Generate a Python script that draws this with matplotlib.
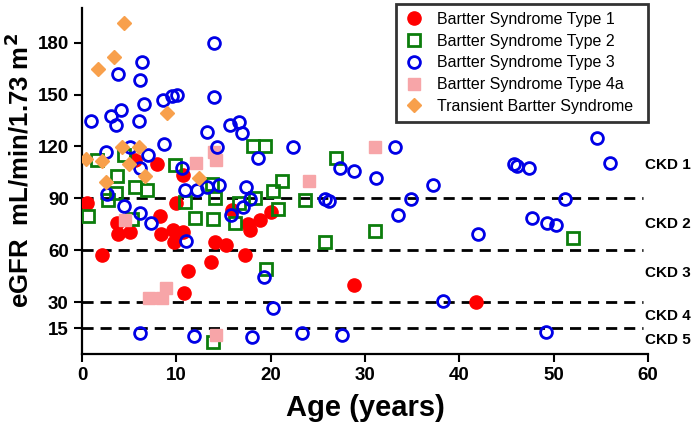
import matplotlib
matplotlib.use("Agg")
import matplotlib.pyplot as plt
from matplotlib.transforms import blended_transform_factory

plt.rcParams['font.family'] = ['Liberation Sans', 'DejaVu Sans']

# ---- data (age in years, eGFR) ----
t1_age = [0.5, 2.1, 3.7, 3.85, 5.1, 8.3, 8.4, 9.6, 9.7, 10.7, 10.0, 11.2, 10.85,
          7.9, 5.6, 10.7, 15.9, 17.6, 17.8, 18.9, 20.0, 14.1, 15.3, 17.3, 13.7,
          28.8, 41.8]
t1_gfr = [87, 57, 76, 69.6, 70.6, 79.8, 69.6, 71.6, 64.8, 70.6, 87, 48, 35,
          109.6, 112, 103.3, 83, 75.4, 71.6, 77.3, 82, 64.8, 62.9, 57.1, 53,
          40, 30]

t2_age = [0.6, 1.6, 2.8, 3.6, 3.7, 4.4, 5.3, 5.6, 6.9, 9.9, 10.9, 12.0, 13.8,
          13.9, 14.1, 13.9, 16.6, 16.2, 18.1, 19.4, 18.3, 19.5, 20.2, 20.8,
          21.2, 23.6, 25.8, 26.9, 31.1, 52.1]
t2_gfr = [80, 112, 89, 93, 103, 115, 78, 96.5, 94.6, 109, 88, 78.5, 98.5,
          78, 90, 7, 87, 76, 120, 120, 90, 49, 94, 84,
          100, 89, 65, 113.5, 71, 67]

t3_age = [0.95, 3.1, 3.6, 4.1, 3.85, 6.4, 6.15, 6.6, 6.0, 8.6, 9.5, 10.1, 14.0,
          14.0, 8.7, 13.3, 15.7, 16.6, 17.0, 14.35, 2.5, 5.1, 7.0, 6.1, 10.6,
          10.9, 12.2, 13.3, 14.5, 2.7, 4.45, 6.2, 7.3, 11.0, 15.8, 17.1, 6.15,
          11.9, 18.7, 17.4, 17.8, 19.3, 20.2, 18.0, 22.4, 27.4, 28.8, 33.2,
          31.2, 37.2, 25.8, 26.2, 34.9, 33.5, 23.3, 27.6, 54.6, 56.0, 45.8,
          46.1, 47.4, 51.2, 47.75, 49.3, 50.3, 42.0, 38.25, 49.2]
t3_gfr = [134.6, 137.5, 132.5, 140.8, 161.6, 168.5, 158.5, 144.3, 134.8, 146.6,
          148.9, 149.5, 179.6, 148.5, 121.6, 128.3, 132.5, 134, 127.7, 119.6,
          116.7, 119.6, 114.8, 107.5, 107.5, 94.6, 94.6, 96.5, 97.5, 92.7, 85.5,
          81.5, 76, 65.5, 80.2, 85, 11.9, 10.4, 113.4, 96.5, 89.8, 44.6, 26.4,
          10, 119.6, 107.5, 105.8, 119.6, 101.7, 97.9, 89.8, 88.5, 89.6, 80.6,
          11.9, 11, 124.8, 110.6, 110, 108.5, 107.5, 89.8, 78.7, 75.8, 74.8,
          69.1, 30.8, 12.9]

t4a_age = [12.1, 14.0, 14.2, 31.1, 24.1, 7.1, 8.5, 8.9, 14.2, 4.6]
t4a_gfr = [110.6, 116.7, 112.3, 119.6, 99.8, 32.1, 32.1, 37.9, 11.0, 77.3]

tr_age = [4.5, 1.7, 3.4, 9.05, 4.25, 6.05, 0.4, 2.1, 5.0, 2.5, 6.7, 12.4]
tr_gfr = [191.2, 164.5, 171.6, 139.3, 119.6, 119.6, 112.9, 111.6, 109.6,
          99.4, 102.7, 101.7]

ckd_levels = [90, 60, 30, 15]
ckd_labels = ["CKD 1", "CKD 2", "CKD 3", "CKD 4", "CKD 5"]
ckd_label_y = [109, 75, 47, 22, 8]

yticks = [15, 30, 60, 90, 120, 150, 180]
xticks = [0, 10, 20, 30, 40, 50, 60]

series_names = ["Bartter Syndrome Type 1", "Bartter Syndrome Type 2",
                "Bartter Syndrome Type 3", "Bartter Syndrome Type 4a",
                "Transient Bartter Syndrome"]

RED = '#ff0000'
GREEN = '#0c7d0c'
BLUE = '#0000e6'
PINK = '#f7a5a8'
ORANGE = '#f8a04c'

W, H = 693, 426
fig = plt.figure(figsize=(W / 100, H / 100), dpi=100)
ax = fig.add_axes([82 / W, (H - 354) / H, (648 - 82) / W, (354 - 8) / H])

for lv in ckd_levels:
    ax.plot([0, 59.5], [lv, lv], color='black', lw=2.0, ls=(0, (4, 2.5)), zorder=1)

h1, = ax.plot(t1_age, t1_gfr, 'o', ms=9.5, color=RED, mec=RED, ls='none', zorder=3)
h2, = ax.plot(t2_age, t2_gfr, 's', ms=8.0, mfc='none', mec=GREEN, mew=2.0, ls='none', zorder=4)
h4, = ax.plot(t4a_age, t4a_gfr, 's', ms=8.0, color=PINK, mec=PINK, ls='none', zorder=4)
h3, = ax.plot(t3_age, t3_gfr, 'o', ms=8.5, mfc='none', mec=BLUE, mew=2.0, ls='none', zorder=5)
h5, = ax.plot(tr_age, tr_gfr, 'D', ms=7.0, color=ORANGE, mec=ORANGE, ls='none', zorder=6)

ax.set_xlim(0, 60)
ax.set_ylim(0, 200)
ax.set_xticks(xticks)
ax.set_yticks(yticks)
ax.tick_params(axis='both', direction='out', length=6, width=1.5, labelsize=13.5)
for lab in ax.get_xticklabels() + ax.get_yticklabels():
    lab.set_fontweight('bold')
for s in ['top', 'right']:
    ax.spines[s].set_visible(False)
for s in ['left', 'bottom']:
    ax.spines[s].set_linewidth(1.6)

ax.set_xlabel("Age (years)", fontsize=21, fontweight='bold', labelpad=7)
ax.set_ylabel("eGFR  mL/min/1.73 m$^\\mathbf{2}$", fontsize=18.5, fontweight='bold', labelpad=4)
ax.yaxis.set_label_coords(-0.085, 0.53)

trans = blended_transform_factory(fig.transFigure, ax.transData)
for lab, yv in zip(ckd_labels, ckd_label_y):
    ax.text(691 / W, yv, lab, transform=trans, fontsize=11,
            fontweight='bold', ha='right', va='center', clip_on=False)

leg_top = 1 - 4 / H
leg = fig.legend([h1, h2, h3, h4, h5], series_names, loc='upper left',
                 bbox_to_anchor=(396 / W, leg_top - 0.3, (648 - 396) / W, 0.3),
                 mode='expand', borderaxespad=0,
                 fontsize=11.5, frameon=True, fancybox=False, handletextpad=0.85,
                 labelspacing=0.42, borderpad=0.5, handlelength=1.2)
leg.get_frame().set_edgecolor('black')
leg.get_frame().set_linewidth(2.0)

fig.savefig('out.png', dpi=100)
